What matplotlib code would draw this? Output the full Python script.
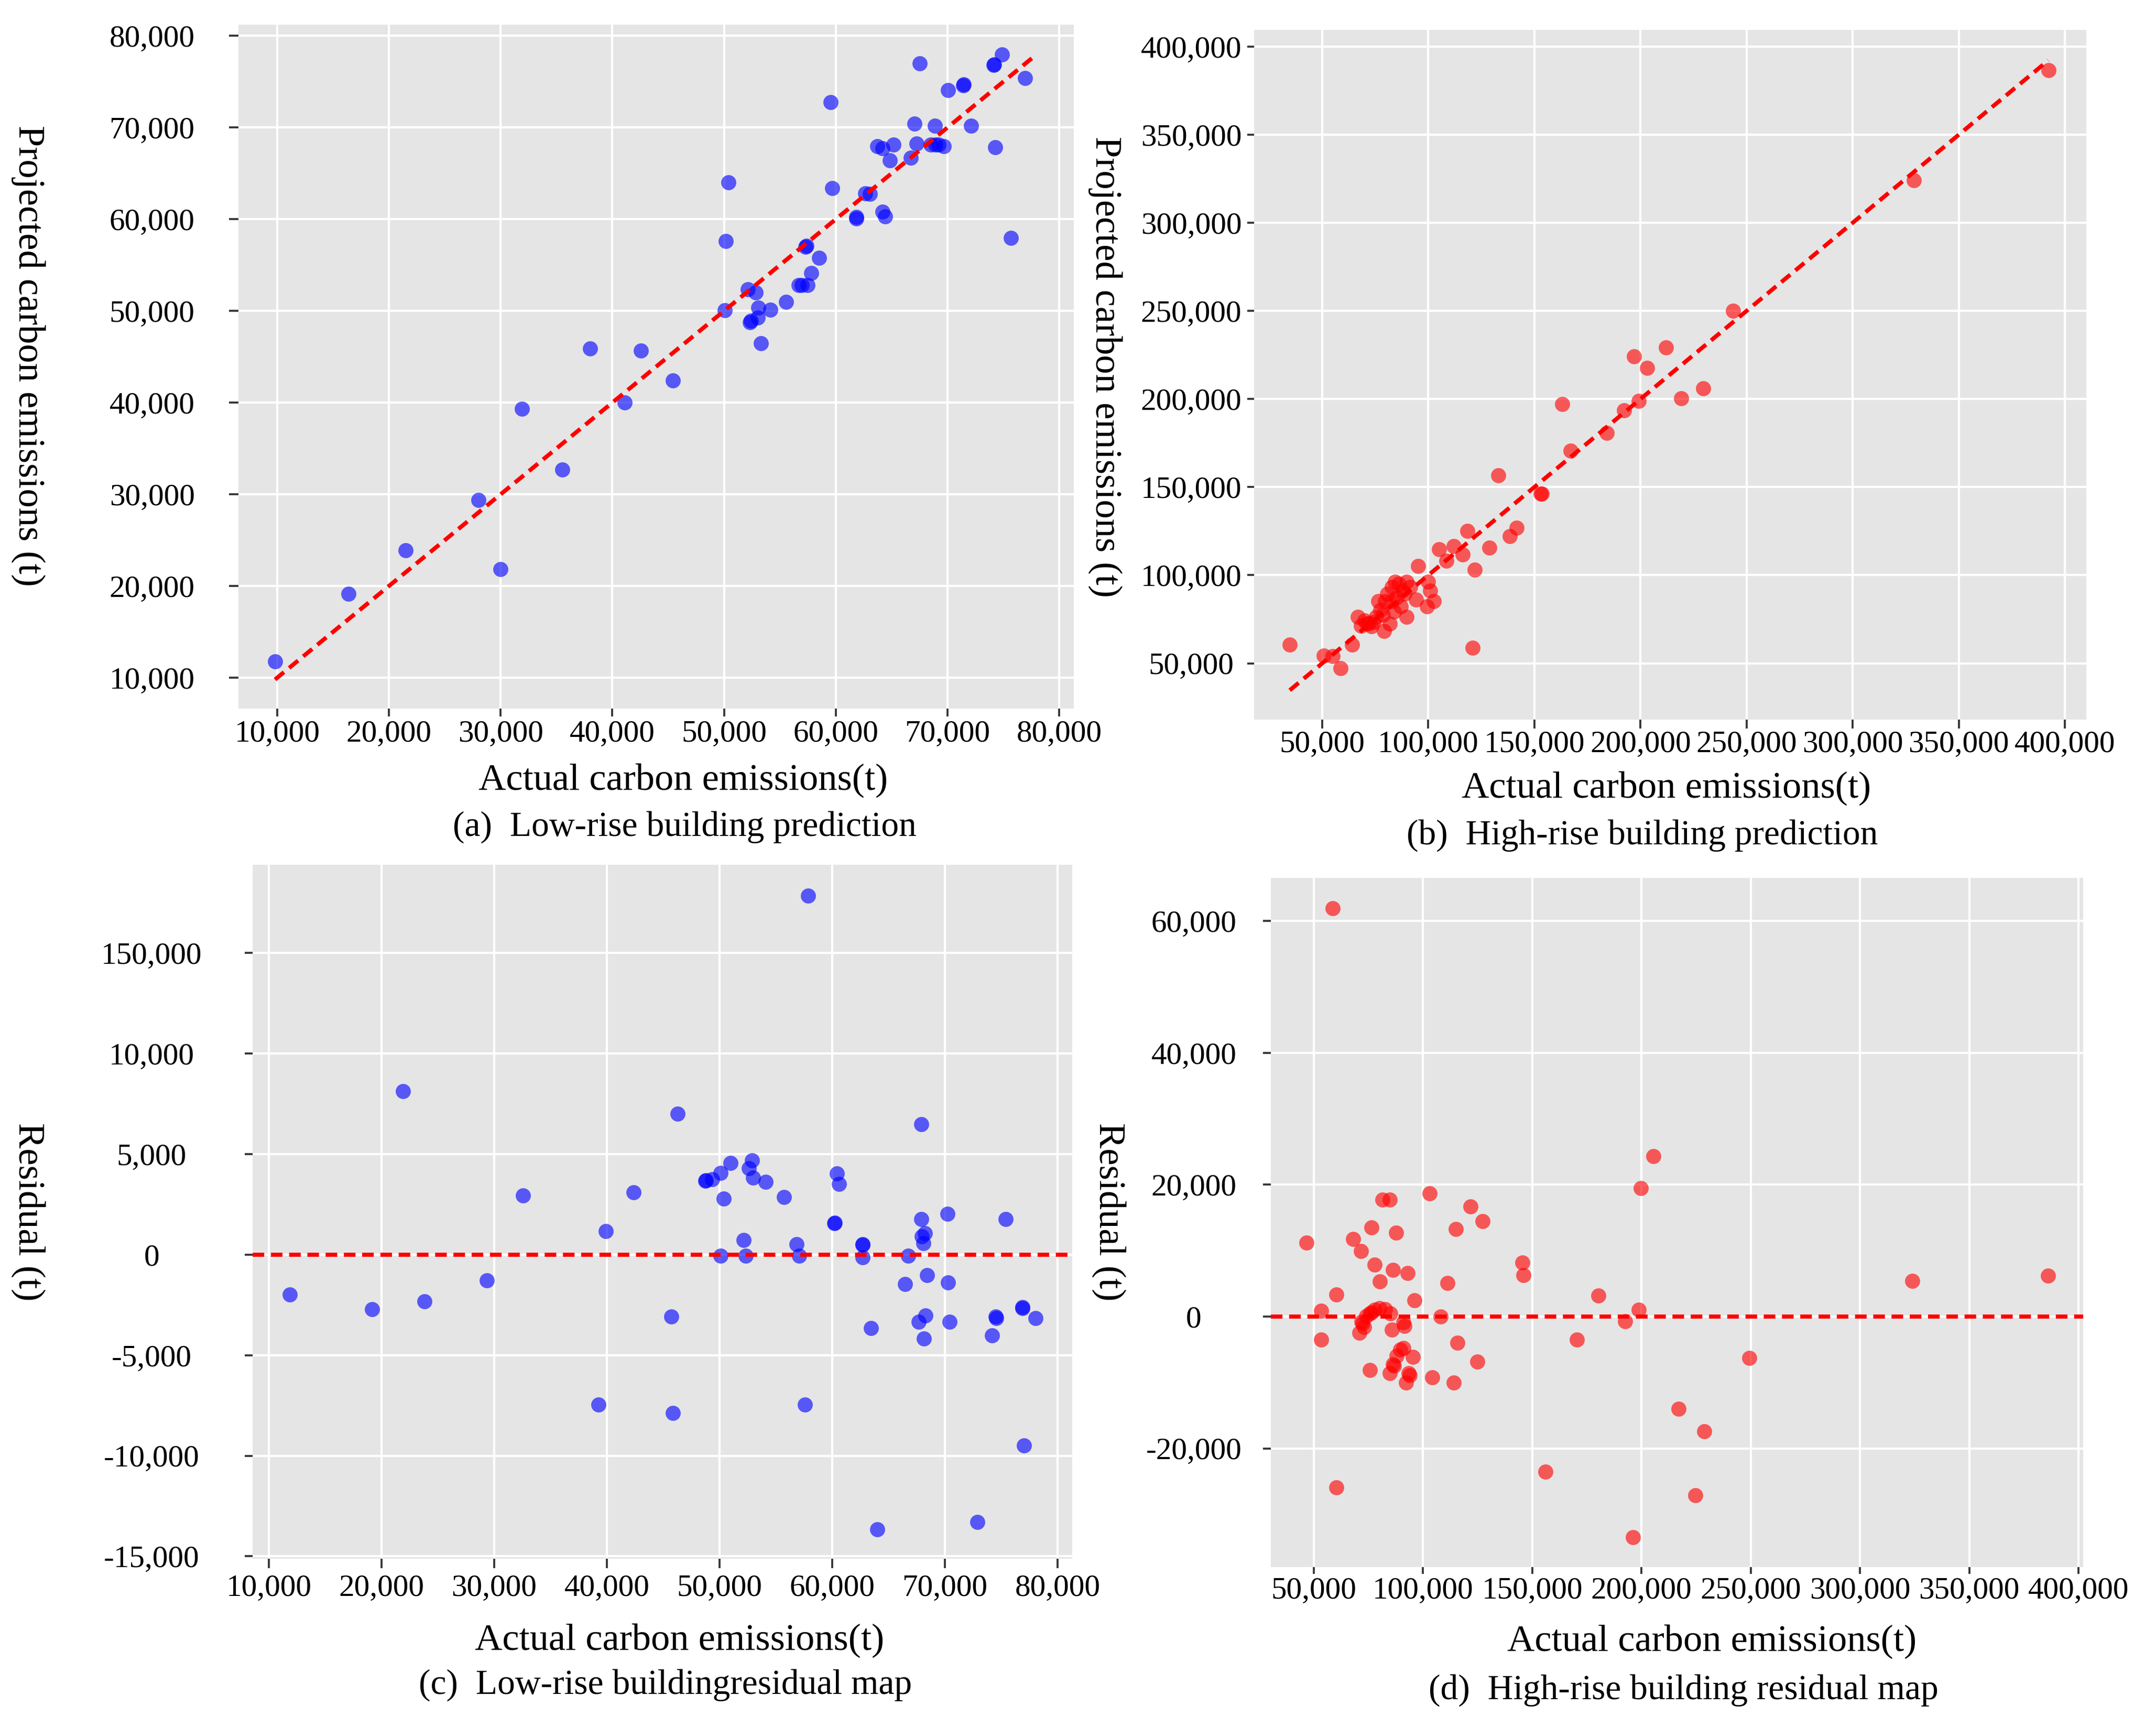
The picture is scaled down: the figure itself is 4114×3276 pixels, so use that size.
import matplotlib
matplotlib.use("Agg")
import matplotlib.pyplot as plt
from matplotlib.ticker import FixedLocator, FixedFormatter

plt.rcParams['font.family'] = ['Liberation Serif', 'DejaVu Serif']

# ---------------- data ----------------
# (a) low-rise: actual vs projected
LOW_ACTUAL = [9800, 16400, 21500, 28000, 30000, 31900, 35500, 38000, 41100, 42540,
              45430, 50140, 50390, 50080, 52150, 52840, 52340, 52400, 53030, 53090,
              53280, 54160, 55540, 56670, 56980, 57300, 57400, 57490, 57800, 58490,
              59560, 59690, 61820, 61850, 62640, 63080, 63700, 64200, 64400, 64200,
              64840, 65150, 66720, 67030, 67220, 67540, 68480, 68860, 68920, 69200,
              69670, 70050, 71430, 71480, 72120, 74130, 74180, 74260, 74890, 75700,
              76960]
LOW_PRED = [11750, 19150, 23900, 29370, 21850, 39300, 32680, 45900, 40000, 45670,
            42420, 57630, 64000, 50050, 52340, 52040, 48730, 48900, 49270, 50350,
            46450, 50110, 50960, 52820, 52820, 56970, 57100, 52820, 54140, 55770,
            72780, 63400, 60100, 60250, 62800, 62740, 67970, 60820, 60280, 67730,
            66410, 68150, 66710, 70440, 68270, 77000, 68150, 70200, 68150, 68150,
            67970, 74050, 74590, 74700, 70200, 76810, 76900, 67850, 77960, 57930,
            75370]
LOW_LINE = [9800, 78000]

# (b) high-rise: actual vs projected
HIGH_ACTUAL = [34700, 50750, 55000, 58600, 64100, 66800, 68400, 70000, 71100, 72100,
               73200, 74300, 75400, 76400, 77500, 78600, 79100, 79600, 80700, 81800,
               82800, 82800, 83900, 84400, 85000, 86000, 87100, 87700, 88700, 89800,
               89800, 91400, 94100, 95300, 99400, 99900, 100800, 102600, 105000, 108500,
               112000, 116100, 118400, 121900, 120800, 128800, 132900, 138500, 141700, 152900,
               153500, 163200, 167100, 184000, 192200, 197000, 199300, 203200, 212000, 219200,
               229600, 243600, 328800, 392200]
HIGH_PRED = [60700, 54300, 54000, 47100, 60700, 76400, 71400, 74400, 72400, 72900,
             70900, 73400, 76400, 85300, 80300, 77400, 68400, 85300, 89300, 72400,
             93200, 85300, 79300, 96200, 87300, 95200, 82300, 91300, 89300, 76400,
             96200, 93200, 86300, 105100, 82300, 96200, 91300, 85300, 114600, 108100,
             116600, 111600, 125200, 103200, 58700, 115600, 156800, 122100, 127000, 146400,
             146400, 197100, 170500, 180800, 193400, 224100, 199000, 217500, 229100, 200300,
             205900, 250000, 324200, 386500]
HIGH_LINE = [34700, 392200]

# (c) low-rise residuals
LOW_RES_X = [11870, 19150, 21890, 23820, 29370, 32540, 39270, 39890, 42380, 45740,
             45870, 46300, 48730, 48800, 49350, 50100, 50100, 50350, 50970, 52150,
             52340, 52590, 52900, 52960, 54080, 55700, 56820, 57070, 57570, 57880,
             60190, 60220, 60440, 60620, 62680, 62700, 62680, 63420, 63990, 66480,
             66720, 67660, 67910, 67910, 67970, 68100, 68160, 68220, 68280, 68410,
             70210, 70270, 70400, 72890, 74200, 74510, 74560, 75380, 76870, 76900,
             77000, 78060]
LOW_RES = [-1980, -2720, 8120, -2310, -1270, 2940, -7460, 1180, 3110, -3080,
           -7870, 7020, 3660, 3700, 3740, 4070, -60, 2780, 4570, 740,
           -60, 4290, 4680, 3830, 3630, 2860, 520, -60, -7460, 17860,
           1570, 1600, 4050, 3520, 520, 480, -140, -3660, -13650, -1460,
           -60, -3330, 6490, 1760, 910, 580, -4160, 1070, -3030, -1020,
           2040, -1380, -3330, -13290, -4020, -3080, -3150, 1760, -2610, -2650,
           -9490, -3160]

# (d) high-rise residuals
HIGH_RES_X = [46800, 53500, 53500, 58800, 60400, 60400, 68000, 71700, 76400, 77800,
              80200, 81600, 84800, 87800, 86200, 93000, 96100, 103000, 111200, 115200,
              121900, 127200, 108200, 115800, 124900, 114200, 104400, 70900, 71900, 73000,
              74100, 75700, 77800, 80000, 82600, 85100, 85800, 91700, 91200, 75700,
              84800, 86400, 89600, 91200, 95500, 92300, 93900, 88000, 72500, 76500,
              86800, 93500, 145500, 146100, 156100, 170500, 180400, 192600, 198700, 199800,
              205600, 196200, 217000, 228700, 224600, 249500, 324000, 386200]
HIGH_RES = [11200, 900, -3500, 61900, 3300, -25900, 11800, 9900, 13500, 7900,
            5300, 17700, 17700, 12700, 7100, 6600, 2500, 18700, 5100, 13300,
            16700, 14500, 0, -4000, -6800, -10000, -9200, -2500, -800, -1600,
            100, 500, 1000, 1300, 1100, 500, -2000, -1400, -900, -8100,
            -8600, -7200, -5000, -4800, -6100, -10000, -8900, -6000, -1000, 600,
            -7500, -8600, 8200, 6300, -23500, -3500, 3200, -700, 1000, 19500,
            24300, -33500, -14000, -17400, -27100, -6300, 5400, 6200]

LOW_X_TICKS = [10000, 20000, 30000, 40000, 50000, 60000, 70000, 80000]
LOW_Y_TICKS = [10000, 20000, 30000, 40000, 50000, 60000, 70000, 80000]
HIGH_TICKS = [50000, 100000, 150000, 200000, 250000, 300000, 350000, 400000]
LOW_RES_TICKS = [15000, 10000, 5000, 0, -5000, -10000, -15000]
LOW_RES_LABELS = ["150,000", "10,000", "5,000", "0", "-5,000", "-10,000", "-15,000"]
HIGH_RES_TICKS = [60000, 40000, 20000, 0, -20000]
HIGH_RES_LABELS = ["60,000", "40,000", "20,000", "0", "-20,000"]

X_TITLE = "Actual carbon emissions(t)"
Y_TITLE_PRED = "Projected carbon emissions (t)"
Y_TITLE_RES = "Residual (t)"
CAPTIONS = ["(a)  Low-rise building prediction", "(b)  High-rise building prediction",
            "(c)  Low-rise buildingresidual map", "(d)  High-rise building residual map"]

# ---------------- figure ----------------
W, H = 4114, 3276
fig = plt.figure(figsize=(W / 300, H / 300), dpi=300)

TICK_FS = 14.2


def px_axes(l, t, r, b):
    return fig.add_axes([l / W, 1 - b / H, (r - l) / W, (b - t) / H])


def fmt(v):
    return f"{v:,.0f}"


def style(ax, xlim, ylim, xticks, yticks, ylabels, ylen, ypad, xlen, xpad):
    ax.set_facecolor('#E5E5E5')
    for s in ax.spines.values():
        s.set_visible(False)
    ax.set_xlim(*xlim)
    ax.set_ylim(*ylim)
    ax.xaxis.set_major_locator(FixedLocator(xticks))
    ax.xaxis.set_major_formatter(FixedFormatter([fmt(v) for v in xticks]))
    ax.yaxis.set_major_locator(FixedLocator(yticks))
    ax.yaxis.set_major_formatter(FixedFormatter(ylabels))
    ax.grid(True, color='white', linewidth=1.0)
    ax.set_axisbelow(True)
    ax.tick_params(axis='y', length=ylen, width=0.9, color='#333333', pad=ypad,
                   labelsize=TICK_FS, labelcolor='black')
    ax.tick_params(axis='x', length=xlen, width=0.9, color='#333333', pad=xpad,
                   labelsize=TICK_FS, labelcolor='black')
    for lab in ax.get_yticklabels():
        lab.set_horizontalalignment('center')


BLUE = '#0000FF'
RED = '#FF0000'
MS = 48
DASH = (0, (2.8, 1.6))

# (a)
ax = px_axes(455, 47, 2049, 1352)
ax.scatter(LOW_ACTUAL, LOW_PRED, s=MS, color=BLUE, alpha=0.62, linewidths=0, zorder=3)
ax.plot(LOW_LINE, LOW_LINE, color=RED, lw=1.9, ls=DASH, zorder=4)
style(ax, (6530, 81310), (6630, 81220), LOW_X_TICKS, LOW_Y_TICKS,
      [fmt(v) for v in LOW_Y_TICKS], 4.3, 35.3, 3.6, 1.5)

# (b)
ax = px_axes(2393, 57, 3981, 1373)
ax.scatter(HIGH_ACTUAL, HIGH_PRED, s=MS, color=RED, alpha=0.62, linewidths=0, zorder=3)
ax.plot(HIGH_LINE, HIGH_LINE, color=RED, lw=1.9, ls=DASH, zorder=4)
style(ax, (17900, 410100), (18050, 409500), HIGH_TICKS, HIGH_TICKS,
      [fmt(v) for v in HIGH_TICKS], 3.1, 25.7, 4.0, 1.0)

# (c)
ax = px_axes(482, 1650, 2046, 2974)
ax.scatter(LOW_RES_X, LOW_RES, s=MS, color=BLUE, alpha=0.62, linewidths=0, zorder=3)
ax.axhline(0, color=RED, lw=1.9, ls=DASH, zorder=4)
style(ax, (8560, 81300), (-15120, 19390), LOW_X_TICKS, LOW_RES_TICKS,
      LOW_RES_LABELS, 3.6, 42.7, 4.3, 2.8)

# (d)
ax = px_axes(2425, 1675, 3975, 2990)
ax.scatter(HIGH_RES_X, HIGH_RES, s=MS, color=RED, alpha=0.62, linewidths=0, zorder=3)
ax.axhline(0, color=RED, lw=1.9, ls=DASH, zorder=4)
style(ax, (30430, 402160), (-38000, 66540), HIGH_TICKS, HIGH_RES_TICKS,
      HIGH_RES_LABELS, 3.6, 31.7, 3.1, 1.5)

# titles and captions (pixel positions)
def ftext(x, y, s, size, rot=0):
    fig.text(x / W, 1 - y / H, s, fontsize=size, rotation=rot,
             ha='center', va='center', color='black')

ftext(1304, 1489, X_TITLE, 17.4)
ftext(3180, 1504, X_TITLE, 17.4)
ftext(1297, 3130, X_TITLE, 17.4)
ftext(3267, 3132, X_TITLE, 17.4)

ftext(1306, 1578, CAPTIONS[0], 16.2)
ftext(3134, 1594, CAPTIONS[1], 16.2)
ftext(1270, 3215, CAPTIONS[2], 16.2)
ftext(3212, 3225, CAPTIONS[3], 16.2)

ftext(54, 679, Y_TITLE_PRED, 17.4, rot=-90)
ftext(2109, 700, Y_TITLE_PRED, 17.4, rot=-90)
ftext(54, 2312, Y_TITLE_RES, 17.4, rot=-90)
ftext(2116, 2312, Y_TITLE_RES, 17.4, rot=-90)

fig.savefig("out.png", dpi=300, facecolor='white')
